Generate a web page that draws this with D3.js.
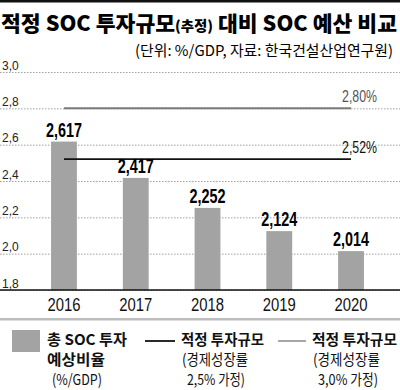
<!DOCTYPE html>
<html>
<head>
<meta charset="utf-8">
<script src="https://cdn.jsdelivr.net/npm/d3@7"></script>
<style>
  body { margin: 0; background: #fff; }
  svg { display: block; }
  text { font-family: "Noto Sans CJK KR", "Liberation Sans Narrow", "Liberation Sans", sans-serif; }
  .num { font-family: "Liberation Sans Narrow", "Liberation Sans", sans-serif; }
</style>
</head>
<body>
<svg id="chart" width="400" height="390"></svg>
<script>
var years = ["2016", "2017", "2018", "2019", "2020"];
var socValues = [2.617, 2.417, 2.252, 2.124, 2.014];
var optimal25 = 2.52;   // 적정 투자규모 (경제성장률 2.5% 가정)
var optimal30 = 2.80;   // 적정 투자규모 (경제성장률 3.0% 가정)
var yTicks = [1.8, 2.0, 2.2, 2.4, 2.6, 2.8, 3.0];

var legendItems = [
  { type: "rect", lines: ["총 SOC 투자", "예상비율", "(%/GDP)"] },
  { type: "black", lines: ["적정 투자규모", "(경제성장률", "2,5% 가정)"] },
  { type: "gray", lines: ["적정 투자규모", "(경제성장률", "3,0% 가정)"] }
];

var svg = d3.select("#chart");
var width = 400;
var barColor = "#a3a3a3", grayLine = "#7a7a7a";

function comma(f){ return function(v){ return d3.format(f)(v).replace(".", ","); }; }

var xScale = d3.scaleBand()
  .domain(years)
  .range([28.1, 386.9])
  .paddingInner(0.64)
  .paddingOuter(0.32);

var yScale = d3.scaleLinear()
  .domain([1.8, 3.0])
  .range([290, 72]);

// top rule
svg.append("rect").attr("x", 0).attr("y", 0).attr("width", width).attr("height", 2.5).attr("fill", "#111");

// title
var title = svg.append("text")
  .attr("x", 1).attr("y", 31)
  .attr("font-size", 21).attr("font-weight", 900)
  .attr("textLength", 396).attr("lengthAdjust", "spacingAndGlyphs");
title.append("tspan").text("적정 SOC 투자규모");
title.append("tspan").attr("font-size", 14).text("(추정)");
title.append("tspan").text(" 대비 SOC 예산 비교");

svg.append("text")
  .attr("x", 135).attr("y", 56)
  .attr("font-size", 15)
  .attr("textLength", 258).attr("lengthAdjust", "spacingAndGlyphs")
  .text("(단위: %/GDP, 자료: 한국건설산업연구원)");

// gridlines
var grid = svg.append("g")
  .attr("class", "grid")
  .call(d3.axisRight(yScale).tickValues(yTicks).tickSize(width).tickFormat(comma(".1f")));
grid.select(".domain").remove();
grid.selectAll(".tick line")
  .attr("stroke", "#888")
  .attr("stroke-dasharray", "1.5,1.5")
  .attr("stroke-width", 0.8);
grid.selectAll(".tick text")
  .attr("x", 2).attr("dy", -3)
  .attr("text-anchor", "start")
  .attr("dominant-baseline", "auto")
  .attr("class", "num")
  .attr("font-size", 12)
  .attr("fill", "#222");

// bars
svg.selectAll(".bar")
  .data(socValues)
  .enter().append("rect")
  .attr("class", "bar")
  .attr("x", function(d, i){ return xScale(years[i]); })
  .attr("y", function(d){ return yScale(d); })
  .attr("width", xScale.bandwidth())
  .attr("height", function(d){ return yScale(1.8) - yScale(d); })
  .attr("fill", barColor);

// baseline
svg.append("line")
  .attr("x1", 0).attr("x2", width)
  .attr("y1", yScale(1.8)).attr("y2", yScale(1.8))
  .attr("stroke", "#111").attr("stroke-width", 1.5);

// optimal lines
var x0 = xScale(years[0]) + xScale.bandwidth()/2;
var x1 = xScale(years[years.length-1]) + xScale.bandwidth()/2;

svg.append("line")
  .attr("x1", x0).attr("x2", x1)
  .attr("y1", yScale(optimal30)).attr("y2", yScale(optimal30))
  .attr("stroke", grayLine).attr("stroke-width", 2);
svg.append("line")
  .attr("x1", x0).attr("x2", x1)
  .attr("y1", yScale(optimal25)).attr("y2", yScale(optimal25))
  .attr("stroke", "#111").attr("stroke-width", 1.8);

svg.append("text")
  .attr("class", "num")
  .attr("x", x1 - 9).attr("y", yScale(optimal30) - 6)
  .attr("font-size", 16).attr("fill", "#555")
  .attr("textLength", 35).attr("lengthAdjust", "spacingAndGlyphs")
  .text(comma(".2f")(optimal30) + "%");
svg.append("text")
  .attr("class", "num")
  .attr("x", x1 - 9).attr("y", yScale(optimal25) - 6)
  .attr("font-size", 16).attr("fill", "#111")
  .attr("textLength", 35).attr("lengthAdjust", "spacingAndGlyphs")
  .text(comma(".2f")(optimal25) + "%");

// value labels
svg.selectAll(".vlabel")
  .data(socValues)
  .enter().append("text")
  .attr("class", "num")
  .attr("x", function(d, i){ return xScale(years[i]) + xScale.bandwidth()/2 - 18; })
  .attr("y", function(d){ return yScale(d) - 5; })
  .attr("font-size", 21).attr("font-weight", "bold")
  .attr("textLength", 36).attr("lengthAdjust", "spacingAndGlyphs")
  .text(function(d){ return comma(".3f")(d); });

// x axis labels
var xAxis = svg.append("g")
  .attr("transform", "translate(0," + yScale(1.8) + ")")
  .call(d3.axisBottom(xScale).tickSize(0).tickPadding(8));
xAxis.select(".domain").remove();
xAxis.selectAll("text")
  .attr("class", "num")
  .attr("font-size", 18)
  .attr("fill", "#111")
  .attr("textLength", 33).attr("lengthAdjust", "spacingAndGlyphs")
  .attr("x", -16.5)
  .attr("text-anchor", "start");

// separator
svg.append("rect").attr("x", 0).attr("y", 318).attr("width", width).attr("height", 2.5).attr("fill", "#bdbdbd");

// legend
var legX = [12, 145, 278];
var legTextX = [47, 181, 312];
var lineWidths = [[80, 58, 50], [83, 66, 58], [85, 67, 60]];
var lineIndent = [[0, 0, 5], [0, 1, 6], [0, 1, 6]];
var legend = svg.selectAll(".leg")
  .data(legendItems)
  .enter().append("g")
  .attr("class", "leg");

legend.each(function(d, i){
  var g = d3.select(this);
  if(d.type == "rect"){
    g.append("rect").attr("x", legX[i]).attr("y", 330).attr("width", 28).attr("height", 22).attr("fill", barColor);
  } else {
    g.append("line")
      .attr("x1", legX[i]).attr("x2", legX[i] + (d.type == "black" ? 30 : 28))
      .attr("y1", 341).attr("y2", 341)
      .attr("stroke", d.type == "black" ? "#111" : "#8a8a8a")
      .attr("stroke-width", d.type == "black" ? 1.8 : 1.5);
  }
  d.lines.forEach(function(t, j){
    var bold = (i == 0 && j < 2) || (i > 0 && j == 0);
    g.append("text")
      .attr("x", legTextX[i] + lineIndent[i][j])
      .attr("y", 345 + j*20)
      .attr("font-size", 15)
      .attr("font-weight", bold ? "bold" : "normal")
      .attr("fill", "#111")
      .attr("textLength", lineWidths[i][j]).attr("lengthAdjust", "spacingAndGlyphs")
      .text(t);
  });
});
</script>
</body>
</html>
